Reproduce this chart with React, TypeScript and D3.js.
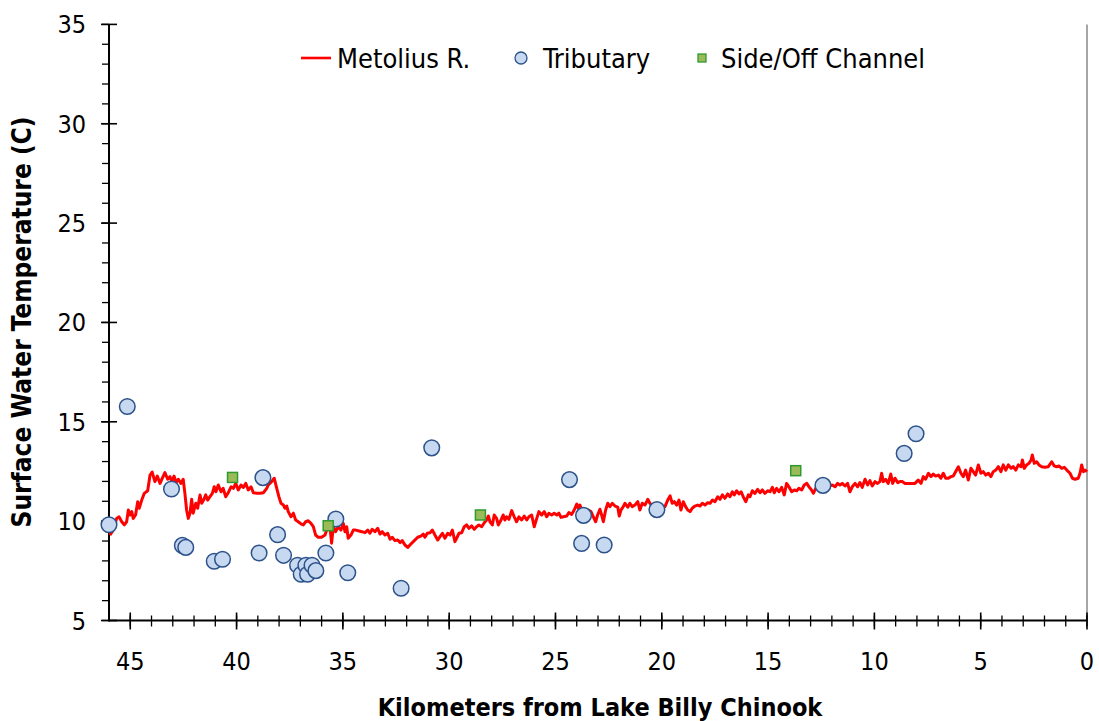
import React, { useRef, useEffect } from "react";
import * as d3 from "d3";

// Metolius River longitudinal temperature profile (km upstream of Lake Billy Chinook)
const riverKm = [
  45.96, 45.8, 45.64, 45.53, 45.4, 45.28, 45.17, 45.09, 45.01, 44.93, 44.86, 44.75, 44.65, 44.58, 44.46, 44.34,
  44.18, 44.07, 43.97, 43.84, 43.73, 43.6, 43.49, 43.37, 43.24, 43.13, 43.05, 42.94, 42.85, 42.74, 42.62, 42.51,
  42.43, 42.35, 42.27, 42.19, 42.11, 42.04, 41.92, 41.83, 41.72, 41.64, 41.55, 41.45, 41.36, 41.25, 41.14, 41.05,
  40.97, 40.86, 40.73, 40.63, 40.51, 40.39, 40.26, 40.15, 40.04, 39.92, 39.79, 39.68, 39.57, 39.45, 39.32, 39.21,
  39.05, 38.9, 38.74, 38.58, 38.51, 38.35, 38.23, 38.11, 38.01, 37.91, 37.8, 37.72, 37.64, 37.57, 37.44, 37.33,
  37.22, 37.1, 36.97, 36.86, 36.75, 36.63, 36.5, 36.39, 36.28, 36.16, 36.0, 35.84, 35.76, 35.61, 35.53, 35.45,
  35.34, 35.22, 35.09, 34.98, 34.9, 34.82, 34.75, 34.62, 34.51, 34.4, 34.28, 34.11, 33.96, 33.83, 33.73, 33.62,
  33.49, 33.36, 33.25, 33.15, 33.02, 32.89, 32.78, 32.68, 32.55, 32.42, 32.31, 32.21, 32.08, 31.95, 31.8, 31.64,
  31.48, 31.33, 31.22, 31.14, 31.03, 30.9, 30.79, 30.67, 30.54, 30.43, 30.32, 30.2, 30.07, 29.96, 29.85, 29.73,
  29.65, 29.54, 29.41, 29.29, 29.18, 29.07, 28.94, 28.82, 28.71, 28.6, 28.47, 28.35, 28.24, 28.16, 28.08, 27.97,
  27.88, 27.77, 27.69, 27.56, 27.46, 27.38, 27.3, 27.19, 27.06, 26.94, 26.83, 26.72, 26.59, 26.47, 26.35, 26.25,
  26.12, 26.0, 25.88, 25.78, 25.65, 25.53, 25.41, 25.31, 25.18, 25.06, 24.94, 24.84, 24.74, 24.63, 24.47, 24.37,
  24.24, 24.12, 24.0, 23.93, 23.85, 23.74, 23.61, 23.46, 23.33, 23.22, 23.11, 23.02, 22.91, 22.83, 22.75, 22.64,
  22.54, 22.44, 22.33, 22.2, 22.07, 22.0, 21.92, 21.81, 21.73, 21.6, 21.5, 21.39, 21.26, 21.13, 21.03, 20.92,
  20.79, 20.66, 20.56, 20.48, 20.32, 20.08, 19.85, 19.72, 19.61, 19.51, 19.41, 19.3, 19.19, 19.1, 18.99, 18.88,
  18.78, 18.67, 18.57, 18.44, 18.31, 18.2, 18.09, 17.97, 17.84, 17.73, 17.62, 17.5, 17.37, 17.26, 17.15, 17.03,
  16.9, 16.79, 16.68, 16.59, 16.48, 16.37, 16.27, 16.17, 16.05, 15.93, 15.85, 15.74, 15.62, 15.49, 15.38, 15.27,
  15.15, 15.02, 14.91, 14.8, 14.71, 14.6, 14.49, 14.36, 14.24, 14.13, 14.02, 13.89, 13.77, 13.65, 13.55, 13.42,
  13.3, 13.18, 13.08, 12.98, 12.87, 12.76, 12.56, 12.32, 12.09, 11.98, 11.85, 11.73, 11.62, 11.51, 11.38, 11.26,
  11.15, 11.04, 10.91, 10.79, 10.68, 10.57, 10.44, 10.32, 10.21, 10.1, 9.97, 9.85, 9.74, 9.66, 9.58, 9.47,
  9.35, 9.23, 9.14, 9.03, 8.9, 8.8, 8.69, 8.56, 8.41, 8.25, 8.09, 7.94, 7.81, 7.7, 7.59, 7.46,
  7.34, 7.23, 7.12, 6.99, 6.87, 6.76, 6.65, 6.52, 6.4, 6.29, 6.18, 6.05, 5.93, 5.82, 5.71, 5.58,
  5.46, 5.35, 5.24, 5.11, 4.99, 4.88, 4.76, 4.64, 4.52, 4.41, 4.29, 4.17, 4.05, 3.94, 3.82, 3.7,
  3.57, 3.47, 3.35, 3.23, 3.1, 3.04, 2.95, 2.84, 2.73, 2.63, 2.57, 2.48, 2.37, 2.26, 2.13, 1.98,
  1.82, 1.66, 1.54, 1.43, 1.32, 1.19, 1.07, 0.95, 0.8, 0.69, 0.56, 0.41, 0.33, 0.25, 0.17, 0.09, 0.0,
];
const riverTemp = [
  9.3, 9.55, 10.14, 10.22, 9.97, 9.81, 9.97, 10.56, 10.31, 10.48, 10.14, 10.31, 10.98, 10.65, 11.06, 11.4,
  11.53, 12.32, 12.47, 11.99, 12.27, 11.9, 12.16, 12.44, 12.11, 12.24, 11.99, 12.27, 11.94, 12.11, 11.9, 12.11,
  11.4, 10.56, 10.14, 10.4, 11.1, 10.4, 10.9, 10.65, 11.32, 10.9, 11.06, 11.32, 11.06, 11.23, 11.4, 11.73,
  11.48, 11.82, 11.48, 11.65, 11.23, 11.43, 11.73, 11.65, 11.9, 11.57, 11.82, 11.7, 11.9, 11.57, 11.73, 11.43,
  11.4, 11.4, 11.43, 11.65, 11.82, 11.99, 12.16, 11.65, 11.23, 10.9, 10.81, 10.65, 10.76, 10.48, 10.22, 10.4,
  10.06, 9.97, 9.86, 9.81, 9.97, 10.02, 9.89, 9.72, 9.3, 9.19, 9.19, 9.3, 9.55, 9.72, 8.89, 9.72,
  9.47, 9.72, 9.55, 9.89, 9.47, 9.72, 9.14, 9.3, 9.55, 9.55, 9.52, 9.47, 9.42, 9.55, 9.39, 9.59,
  9.47, 9.64, 9.35, 9.47, 9.3, 9.39, 9.09, 9.19, 9.02, 9.05, 8.92, 9.02, 8.8, 8.68, 8.85, 9.02,
  9.19, 9.25, 9.35, 9.19, 9.39, 9.42, 9.55, 9.3, 9.05, 9.22, 9.39, 9.14, 9.39, 9.3, 9.55, 8.97,
  9.14, 9.39, 9.42, 9.72, 9.81, 9.64, 9.76, 9.59, 9.72, 9.81, 9.72, 9.92, 10.06, 10.26, 9.97, 9.81,
  10.31, 10.14, 9.81, 10.06, 10.31, 10.06, 10.22, 10.09, 10.53, 10.22, 9.97, 10.22, 10.06, 10.26, 10.06, 10.22,
  10.31, 9.72, 10.14, 10.48, 10.31, 10.48, 10.22, 10.4, 10.31, 10.4, 10.31, 10.4, 10.19, 10.22, 10.26, 10.43,
  10.34, 10.56, 10.86, 10.65, 10.81, 10.48, 10.4, 10.56, 10.48, 10.22, 9.97, 10.31, 10.6, 10.31, 9.97, 10.56,
  10.9, 10.73, 10.9, 10.76, 10.7, 10.26, 10.56, 10.73, 10.9, 10.7, 10.9, 10.73, 10.81, 10.98, 10.56, 10.9,
  10.81, 11.1, 10.9, 10.81, 10.7, 10.76, 10.73, 11.06, 11.27, 10.9, 10.98, 10.81, 11.06, 10.56, 10.98, 10.73,
  10.56, 10.48, 10.65, 10.76, 10.81, 10.76, 10.9, 10.81, 10.93, 10.9, 11.06, 10.98, 11.23, 11.1, 11.32, 11.15,
  11.37, 11.23, 11.48, 11.32, 11.53, 11.37, 11.48, 11.23, 10.98, 11.32, 11.23, 11.53, 11.4, 11.6, 11.43, 11.57,
  11.4, 11.53, 11.48, 11.7, 11.43, 11.65, 11.48, 11.7, 11.32, 11.9, 11.73, 11.48, 11.57, 11.53, 11.65, 11.57,
  11.82, 11.9, 11.73, 11.6, 11.4, 11.65, 11.62, 11.67, 11.77, 11.82, 11.73, 11.9, 11.82, 11.9, 11.77, 11.9,
  11.48, 11.73, 11.9, 11.73, 11.94, 11.7, 12.11, 11.82, 12.04, 11.77, 11.99, 11.9, 11.99, 12.41, 11.99, 12.11,
  11.9, 12.37, 11.9, 12.16, 11.94, 11.99, 11.99, 11.9, 11.9, 11.9, 11.9, 12.07, 11.9, 12.24, 12.11, 12.41,
  12.24, 12.37, 12.27, 12.32, 12.16, 12.41, 12.16, 12.16, 12.24, 12.27, 12.49, 12.74, 12.41, 12.24, 12.57, 12.07,
  12.66, 12.49, 12.32, 12.83, 12.41, 12.49, 12.32, 12.41, 12.24, 12.49, 12.57, 12.74, 12.49, 12.83, 12.57, 12.83,
  12.66, 12.74, 12.57, 12.83, 12.74, 13.08, 12.66, 12.83, 12.91, 13.08, 13.33, 12.91, 12.99, 12.83, 12.74, 12.71,
  12.74, 12.99, 12.78, 12.74, 12.78, 12.66, 12.71, 12.57, 12.41, 12.16, 12.11, 12.16, 12.41, 12.83, 12.49, 12.57, 12.49,
];

// tributary inflows
const tribKm = [
  46.0, 45.14, 43.06, 42.55, 42.39, 41.05, 40.66, 38.76, 38.94, 38.07, 37.79, 37.13, 36.96, 36.74, 36.66,
  36.45, 36.27, 35.8, 35.33, 34.77, 32.26, 30.82, 24.34, 23.68, 23.77, 22.71, 20.23, 12.42, 8.6, 8.04,
];
const tribTemp = [
  9.82, 15.77, 11.62, 8.78, 8.68, 7.98, 8.08, 12.19, 8.4, 9.32, 8.28, 7.78, 7.33, 7.78, 7.33,
  7.78, 7.51, 8.4, 10.11, 7.4, 6.62, 13.69, 12.09, 10.29, 8.88, 8.8, 10.58, 11.8, 13.41, 14.4,
];

// side / off channel sites
const sideKm = [40.19, 35.69, 28.53, 13.7];
const sideTemp = [12.2, 9.77, 10.31, 12.54];

const xTicks = [45, 40, 35, 30, 25, 20, 15, 10, 5, 0];
const yTicks = [5, 10, 15, 20, 25, 30, 35];

const FONT = "'DejaVu Sans Condensed', 'DejaVu Sans', sans-serif";

export default function App() {
  const svgRef = useRef(null);

  const width = 1099, height = 721;

  function renderChart() {
    const svg = d3.select(svgRef.current);
    svg.selectAll("*").remove();
    svg.attr("width", width).attr("height", height);

    const x = d3.scaleLinear().domain([46, 0]).range([109, 1087]);
    const y = d3.scaleLinear().domain([5, 35]).range([620.5, 24.4]);

    // right border of plot area
    svg.append("line")
      .attr("x1", x(0)).attr("x2", x(0))
      .attr("y1", y(35)).attr("y2", y(5))
      .attr("stroke", "#a6a6a6").attr("stroke-width", 2);

    // minor ticks
    const yMinor = d3.range(5, 36, 1);
    svg.append("g").selectAll("line").data(yMinor).enter().append("line")
      .attr("x1", x(46) - 7).attr("x2", x(46))
      .attr("y1", d => y(d)).attr("y2", d => y(d))
      .attr("stroke", "black").attr("stroke-width", 1.3);
    const xMinor = d3.range(0, 46, 1);
    svg.append("g").selectAll("line").data(xMinor).enter().append("line")
      .attr("x1", d => x(d)).attr("x2", d => x(d))
      .attr("y1", y(5) - 5).attr("y2", y(5) + 6)
      .attr("stroke", "black").attr("stroke-width", 1.3);

    // major ticks (cross)
    svg.append("g").selectAll("line").data(yTicks).enter().append("line")
      .attr("x1", x(46) - 8).attr("x2", x(46) + 8)
      .attr("y1", d => y(d)).attr("y2", d => y(d))
      .attr("stroke", "black").attr("stroke-width", 1.6);
    svg.append("g").selectAll("line").data(xTicks).enter().append("line")
      .attr("x1", d => x(d)).attr("x2", d => x(d))
      .attr("y1", y(5) - 8).attr("y2", y(5) + 9)
      .attr("stroke", "black").attr("stroke-width", 1.6);

    // axis lines
    svg.append("line")
      .attr("x1", x(46)).attr("x2", x(46))
      .attr("y1", y(35)).attr("y2", y(5) + 1)
      .attr("stroke", "black").attr("stroke-width", 2);
    svg.append("line")
      .attr("x1", x(46)).attr("x2", x(0))
      .attr("y1", y(5)).attr("y2", y(5))
      .attr("stroke", "black").attr("stroke-width", 2);

    // tick labels
    svg.append("g").selectAll("text").data(yTicks).enter().append("text")
      .attr("x", 86).attr("y", d => y(d))
      .attr("dy", "0.36em")
      .attr("text-anchor", "end")
      .attr("font-family", FONT).attr("font-size", 25)
      .text(d => d);
    svg.append("g").selectAll("text").data(xTicks).enter().append("text")
      .attr("x", d => x(d)).attr("y", 670)
      .attr("text-anchor", "middle")
      .attr("font-family", FONT).attr("font-size", 25)
      .text(d => d);

    // axis titles
    svg.append("text")
      .attr("x", 600).attr("y", 716)
      .attr("text-anchor", "middle")
      .attr("font-family", FONT).attr("font-size", 25).attr("font-weight", "bold")
      .text("Kilometers from Lake Billy Chinook");
    svg.append("text")
      .attr("transform", "translate(31," + 322 + ") rotate(-90)")
      .attr("text-anchor", "middle")
      .attr("font-family", FONT).attr("font-size", 26).attr("font-weight", "bold")
      .text("Surface Water Temperature (C)");

    // river line
    const river = riverKm.map((k, i) => ({ km: k, t: riverTemp[i] }));
    svg.append("path")
      .datum(river)
      .attr("fill", "none")
      .attr("stroke", "#ff0000")
      .attr("stroke-width", 3)
      .attr("stroke-linejoin", "round")
      .attr("d", d3.line()
        .x(function (d) { return x(d.km) })
        .y(function (d) { return y(d.t) })
      );

    // tributaries
    const trib = tribKm.map((k, i) => ({ km: k, t: tribTemp[i] }));
    svg.append("g").selectAll("circle").data(trib).enter().append("circle")
      .attr("cx", d => x(d.km)).attr("cy", d => y(d.t)).attr("r", 7.8)
      .attr("fill", "#c6d9f1").attr("stroke", "#2c5289").attr("stroke-width", 1.5);

    // side channels
    const side = sideKm.map((k, i) => ({ km: k, t: sideTemp[i] }));
    svg.append("g").selectAll("rect").data(side).enter().append("rect")
      .attr("x", d => x(d.km) - 5).attr("y", d => y(d.t) - 5)
      .attr("width", 10).attr("height", 10)
      .attr("fill", "#9bbb59").attr("stroke", "#2f9a2f").attr("stroke-width", 1.5);

    // legend
    const lg = svg.append("g");
    lg.append("line").attr("x1", 301).attr("x2", 331).attr("y1", 58).attr("y2", 58)
      .attr("stroke", "#ff0000").attr("stroke-width", 2.6);
    lg.append("text").attr("x", 337).attr("y", 58).attr("dy", "0.36em")
      .attr("font-family", FONT).attr("font-size", 27).text("Metolius R.");
    lg.append("circle").attr("cx", 521).attr("cy", 58).attr("r", 6)
      .attr("fill", "#c6d9f1").attr("stroke", "#2c5289").attr("stroke-width", 1.3);
    lg.append("text").attr("x", 543).attr("y", 58).attr("dy", "0.36em")
      .attr("font-family", FONT).attr("font-size", 27).text("Tributary");
    lg.append("rect").attr("x", 698).attr("y", 54).attr("width", 8).attr("height", 8)
      .attr("fill", "#9bbb59").attr("stroke", "#2f9a2f").attr("stroke-width", 1.3);
    lg.append("text").attr("x", 721).attr("y", 58).attr("dy", "0.36em")
      .attr("font-family", FONT).attr("font-size", 27).text("Side/Off Channel");
  }

  useEffect(() => {
    renderChart();
  }, []);

  return (
    <div style={{ position: "absolute", left: 0, top: 0, background: "white" }}>
      <svg ref={svgRef} style={{ display: "block" }} />
    </div>
  );
}
